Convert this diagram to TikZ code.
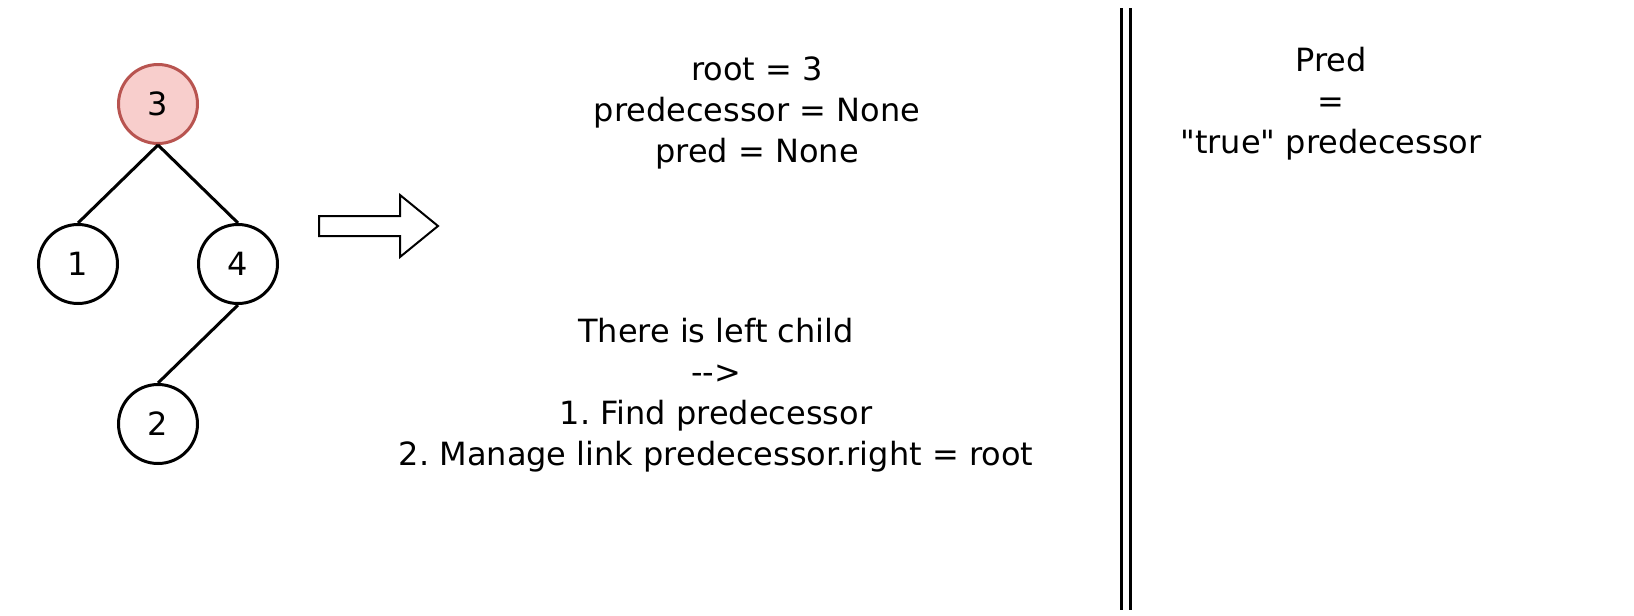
\documentclass[tikz,border=0pt]{standalone}
\usepackage{fontspec}
\setmainfont{DejaVu Sans}
\usetikzlibrary{positioning}
\frenchspacing

\begin{document}
\begin{tikzpicture}[x=0.5pt,y=-0.5pt,
        every node/.style={font=\fontsize{16}{20.5}\selectfont},
        treenode/.style={circle,draw,line width=1.5pt,minimum size=39.5pt,inner sep=0pt},
        rootnode/.style={treenode,draw={rgb,255:red,184;green,84;blue,80},fill={rgb,255:red,248;green,206;blue,204}},
        notes/.style={align=center}]
    \useasboundingbox (0,0) rectangle (1634,616);
    \node[rootnode] (three) at (158,104) {3};
    \node[treenode] (one) at (78,264) {1};
    \node[treenode] (four) at (238,264) {4};
    \node[treenode] (two) at (158,424) {2};
    \draw[line width=1.5pt] (three.south) -- (one.north);
    \draw[line width=1.5pt] (three.south) -- (four.north);
    \draw[line width=1.5pt] (four.south) -- (two.north);
    \draw[line width=1pt,line join=miter] (319,216) -- (400,216) -- (400,195) -- (438,226)
        -- (400,257) -- (400,236) -- (319,236) -- cycle;
    \node[notes] (state) at (757,113) {root = 3\\predecessor = None\\pred = None};
    \node[notes] (steps) at (716,395) {There is left child\\{-}{-}>\\1. Find predecessor\\2. Manage link predecessor.right = root};
    \coordinate (divtop) at (1126,8);
    \coordinate (divbot) at (1126,610);
    \draw[line width=1.2pt,double,double distance=3.3pt] (divtop) -- (divbot);
    \node[notes] (predinfo) at (1331,104) {Pred\\=\\\textquotedbl true\textquotedbl{} predecessor};
\end{tikzpicture}
\end{document}
